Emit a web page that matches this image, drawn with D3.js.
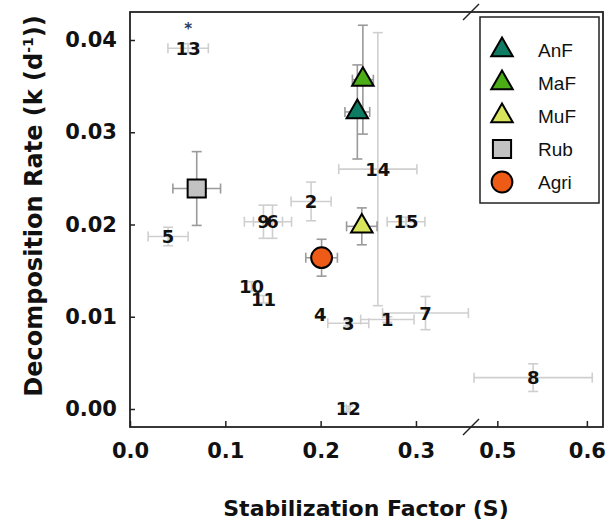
<!DOCTYPE html>
<html>
<head>
<meta charset="utf-8">
<script src="https://cdn.jsdelivr.net/npm/d3@7"></script>
<style>
  body { margin: 0; background: #fff; }
  svg { font-family: "DejaVu Sans", sans-serif; }
</style>
</head>
<body>
<div id="chart"></div>
<script>
// numbered sites: S, S error, k, k error
const siteIds = ["1", "2", "3", "4", "5", "6", "7", "8", "9", "10", "11", "12", "13", "14", "15"];
const siteS = [0.270, 0.190, 0.229, 0.1995, 0.040, 0.1495, 0.310, 0.540, 0.140, 0.1275, 0.140, 0.229, 0.061, 0.260, 0.2896];
const siteSErr = [0.028, 0.021, 0.0215, 0, 0.021, 0.020, 0.045, 0.066, 0.020, 0, 0, 0.002, 0.0212, 0.041, 0.0198];
const siteK = [0.0097, 0.0225, 0.0093, 0.0102, 0.0187, 0.0203, 0.0104, 0.0034, 0.0203, 0.0133, 0.0119, 0.0000, 0.0391, 0.0260, 0.0203];
const siteKErr = [0.0003, 0.0021, 0.0003, 0, 0.001, 0.0018, 0.0018, 0.0015, 0.0018, 0.0005, 0.0004, 0.0003, 0.0005, 0.0148, 0.0005];

// land-use group means
const groups = ["AnF", "MaF", "MuF", "Rub", "Agri"];
const groupS = [0.2385, 0.2443, 0.2432, 0.070, 0.201];
const groupSErr = [0.013, 0.011, 0.016, 0.025, 0.0166];
const groupK = [0.0322, 0.0357, 0.0198, 0.0239, 0.0164];
const groupKErr = [0.0051, 0.0059, 0.002, 0.004, 0.002];
const groupColors = ["#0e7c62", "#4cae17", "#d8e55c", "#c2c2c2", "#ee5b17"];
const groupShapes = ["triangle", "triangle", "triangle", "square", "circle"];

const xTicks = [0, 0.1, 0.2, 0.3, 0.5, 0.6];
const yTicks = [0, 0.01, 0.02, 0.03, 0.04];

const width = 608, height = 529;
const plot = { left: 130, right: 603, top: 12, bottom: 427 };

// broken x axis: 0 - 0.357 | 0.47 - 0.618
const x = d3.scaleLinear()
  .domain([0, 0.3567, 0.4695, 0.618])
  .range([plot.left, 470, 470, plot.right]);

const y = d3.scaleLinear()
  .domain([0, 0.04])
  .range([409, 40]);

const svg = d3.select("#chart").append("svg")
  .attr("width", width)
  .attr("height", height);

// error bar helper
function errorBars(g, cx, cy, sErr, kErr, color) {
  const cap = 5;
  if (sErr > 0) {
    const x0 = x(cx - sErr), x1 = x(cx + sErr), yy = y(cy);
    g.append("line").attr("x1", x0).attr("x2", x1).attr("y1", yy).attr("y2", yy);
    g.append("line").attr("x1", x0).attr("x2", x0).attr("y1", yy - cap).attr("y2", yy + cap);
    g.append("line").attr("x1", x1).attr("x2", x1).attr("y1", yy - cap).attr("y2", yy + cap);
  }
  if (kErr > 0) {
    const y0 = y(cy - kErr), y1 = y(cy + kErr), xx = x(cx);
    g.append("line").attr("x1", xx).attr("x2", xx).attr("y1", y0).attr("y2", y1);
    g.append("line").attr("x1", xx - cap).attr("x2", xx + cap).attr("y1", y0).attr("y2", y0);
    g.append("line").attr("x1", xx - cap).attr("x2", xx + cap).attr("y1", y1).attr("y2", y1);
  }
  g.attr("stroke", color).attr("stroke-width", 1.6).attr("fill", "none");
}

// site error bars
siteIds.forEach((id, i) => {
  errorBars(svg.append("g"), siteS[i], siteK[i], siteSErr[i], siteKErr[i], "#cfcfcf");
});

// site labels
svg.append("g")
  .selectAll("text")
  .data(siteIds)
  .enter()
  .append("text")
  .attr("x", (d, i) => x(siteS[i]))
  .attr("y", (d, i) => y(siteK[i]))
  .attr("dy", "0.36em")
  .attr("text-anchor", "middle")
  .attr("font-size", 18)
  .attr("font-weight", "bold")
  .attr("fill", "#111")
  .text(d => d);

// asterisk over site 13
svg.append("text")
  .attr("x", x(siteS[12]))
  .attr("y", y(siteK[12]) - 14)
  .attr("text-anchor", "middle")
  .attr("font-size", 15)
  .attr("font-weight", "bold")
  .attr("fill", "#2b3b66")
  .text("*");

// group error bars
groups.forEach((gname, i) => {
  errorBars(svg.append("g"), groupS[i], groupK[i], groupSErr[i], groupKErr[i], "#9a9a9a");
});

const symbolType = { triangle: d3.symbolTriangle, square: d3.symbolSquare, circle: d3.symbolCircle };
const symbolSize = { triangle: 200, square: 330, circle: 340 };

svg.append("g")
  .selectAll("path")
  .data(groups)
  .enter()
  .append("path")
  .attr("transform", (d, i) => `translate(${x(groupS[i])},${y(groupK[i])})`)
  .attr("d", (d, i) => d3.symbol().type(symbolType[groupShapes[i]]).size(symbolSize[groupShapes[i]])())
  .attr("fill", (d, i) => groupColors[i])
  .attr("stroke", "#000")
  .attr("stroke-width", 2);

// frame
svg.append("rect")
  .attr("x", plot.left)
  .attr("y", plot.top)
  .attr("width", plot.right - plot.left)
  .attr("height", plot.bottom - plot.top)
  .attr("fill", "none")
  .attr("stroke", "#222")
  .attr("stroke-width", 1.8);

// x axis
const xAxis = svg.append("g")
  .attr("transform", `translate(0,${plot.bottom})`)
  .call(d3.axisBottom(x).tickValues(xTicks).tickFormat(d3.format(".1f")).tickSize(-6).tickPadding(16));
xAxis.select(".domain").remove();
xAxis.selectAll("line").attr("stroke", "#222").attr("stroke-width", 1.5);
xAxis.selectAll("text")
  .attr("font-size", 21)
  .attr("font-weight", "bold")
  .attr("fill", "#111")
  .attr("font-family", "DejaVu Sans, sans-serif");

// y axis
const yAxis = svg.append("g")
  .attr("transform", `translate(${plot.left},0)`)
  .call(d3.axisLeft(y).tickValues(yTicks).tickFormat(d3.format(".2f")).tickSize(-5).tickPadding(13));
yAxis.select(".domain").remove();
yAxis.selectAll("line").attr("stroke", "#222").attr("stroke-width", 1.5);
yAxis.selectAll("text")
  .attr("font-size", 21)
  .attr("font-weight", "bold")
  .attr("fill", "#111")
  .attr("font-family", "DejaVu Sans, sans-serif");

// axis break marks
[plot.top, plot.bottom].forEach(yy => {
  svg.append("line")
    .attr("x1", 463).attr("y1", yy + 8)
    .attr("x2", 479).attr("y2", yy - 8)
    .attr("stroke", "#222")
    .attr("stroke-width", 1.5);
});

// axis titles
svg.append("text")
  .attr("x", 366)
  .attr("y", 516)
  .attr("text-anchor", "middle")
  .attr("font-size", 22)
  .attr("font-weight", "bold")
  .attr("fill", "#111")
  .text("Stabilization Factor (S)");

const yTitle = svg.append("text")
  .attr("transform", "translate(42,206) rotate(-90)")
  .attr("text-anchor", "middle")
  .attr("font-size", 24)
  .attr("font-weight", "bold")
  .attr("fill", "#111");
yTitle.append("tspan").text("Decomposition Rate (k (d");
yTitle.append("tspan").attr("dy", -9).attr("font-size", 14).text("-1");
yTitle.append("tspan").attr("dy", 9).text("))");

// legend
const legend = svg.append("g");
legend.append("rect")
  .attr("x", 480).attr("y", 17)
  .attr("width", 119).attr("height", 186)
  .attr("fill", "#fff")
  .attr("stroke", "#222")
  .attr("stroke-width", 1.5);

groups.forEach((gname, i) => {
  const ly = 50 + i * 33;
  legend.append("path")
    .attr("transform", `translate(502,${ly})`)
    .attr("d", d3.symbol().type(symbolType[groupShapes[i]]).size(symbolSize[groupShapes[i]])())
    .attr("fill", groupColors[i])
    .attr("stroke", "#000")
    .attr("stroke-width", 2);
  legend.append("text")
    .attr("x", 538)
    .attr("y", ly)
    .attr("dy", "0.36em")
    .attr("font-size", 19)
    .attr("font-family", "Liberation Sans, Arial, sans-serif")
    .attr("fill", "#111")
    .text(gname);
});
</script>
</body>
</html>
